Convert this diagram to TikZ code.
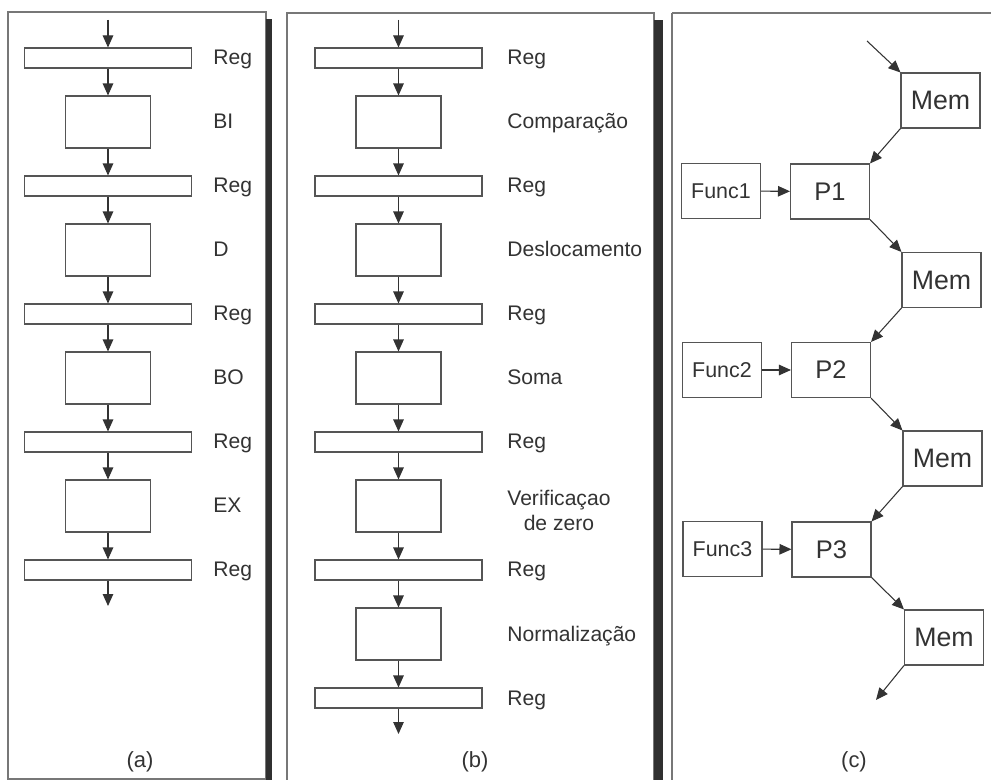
\documentclass[tikz,border=0pt]{standalone}
\usepackage{fontspec}
\setmainfont{Liberation Sans}
\usetikzlibrary{arrows.meta}
\definecolor{ink}{HTML}{333333}
\definecolor{edge}{HTML}{555555}
\definecolor{shade}{HTML}{303030}
\begin{document}
\begin{tikzpicture}[x=0.02cm,y=-0.02cm,
  every node/.style={text=ink},
  frame/.style={draw=edge!80, line width=0.6pt},
  shadowbar/.style={fill=shade, draw=none},
  regbox/.style={draw=edge, line width=0.6pt, minimum width=3.34cm, minimum height=0.4cm, inner sep=0pt},
  stagebox/.style={draw=edge, line width=0.6pt, minimum width=1.7cm, minimum height=1.04cm, inner sep=0pt},
  cbox/.style={draw=edge, line width=0.6pt, minimum width=1.58cm, minimum height=1.1cm, inner sep=0pt},
  lbl/.style={anchor=base west, inner sep=0pt, font=\fontsize{12}{14}\selectfont},
  flow/.style={draw=ink, line width=0.6pt, -{Triangle[length=0.24cm,width=0.21cm]}},
  panelcap/.style={font=\fontsize{12.5}{14}\selectfont},
  memfont/.style={font=\fontsize{15.2}{17}\selectfont},
  procfont/.style={font=\fontsize{14.5}{17}\selectfont},
  funcfont/.style={font=\fontsize{12.2}{14}\selectfont}
]
\useasboundingbox (0,0) rectangle (991,780);

% panel frames and their dark side bars
\fill[white] (0,0) rectangle (991,780);
\draw[frame] (8,12) rectangle (266,779);
\fill[shadowbar] (266,19) rectangle (272,781);
\draw[frame] (287,13) rectangle (654,781);
\fill[shadowbar] (654,20) rectangle (663,781);
\draw[frame] (672,13) -- (995,13);
\draw[frame] (672,13) -- (672,781);

% ---------- (a) four-stage pipeline ----------
\coordinate (ain) at (108,20);
\node[regbox] (ar0) at (108,58) {};
\node[stagebox] (as1) at (108,122) {};
\node[regbox] (ar1) at (108,186) {};
\node[stagebox] (as2) at (108,250) {};
\node[regbox] (ar2) at (108,314) {};
\node[stagebox] (as3) at (108,378) {};
\node[regbox] (ar3) at (108,442) {};
\node[stagebox] (as4) at (108,506) {};
\node[regbox] (ar4) at (108,570) {};
\coordinate (aout) at (108,606);

\draw[flow] (ain) -- (ar0);
\draw[flow] (ar0) -- (as1);
\draw[flow] (as1) -- (ar1);
\draw[flow] (ar1) -- (as2);
\draw[flow] (as2) -- (ar2);
\draw[flow] (ar2) -- (as3);
\draw[flow] (as3) -- (ar3);
\draw[flow] (ar3) -- (as4);
\draw[flow] (as4) -- (ar4);
\draw[flow] (ar4) -- (aout);

\node[lbl] (la0) at (213,65) {Reg};
\node[lbl] (la1) at (213,129) {BI};
\node[lbl] (la2) at (213,193) {Reg};
\node[lbl] (la3) at (213,257) {D};
\node[lbl] (la4) at (213,321) {Reg};
\node[lbl] (la5) at (213,385) {BO};
\node[lbl] (la6) at (213,449) {Reg};
\node[lbl] (la7) at (213,513) {EX};
\node[lbl] (la8) at (213,577) {Reg};
\node[panelcap] (capa) at (140,762) {(a)};

% ---------- (b) floating-point adder pipeline ----------
\coordinate (bin) at (398.5,20);
\node[regbox] (br0) at (398.5,58) {};
\node[stagebox] (bs1) at (398.5,122) {};
\node[regbox] (br1) at (398.5,186) {};
\node[stagebox] (bs2) at (398.5,250) {};
\node[regbox] (br2) at (398.5,314) {};
\node[stagebox] (bs3) at (398.5,378) {};
\node[regbox] (br3) at (398.5,442) {};
\node[stagebox] (bs4) at (398.5,506) {};
\node[regbox] (br4) at (398.5,570) {};
\node[stagebox] (bs5) at (398.5,634) {};
\node[regbox] (br5) at (398.5,698) {};
\coordinate (bout) at (398.5,734);

\draw[flow] (bin) -- (br0);
\draw[flow] (br0) -- (bs1);
\draw[flow] (bs1) -- (br1);
\draw[flow] (br1) -- (bs2);
\draw[flow] (bs2) -- (br2);
\draw[flow] (br2) -- (bs3);
\draw[flow] (bs3) -- (br3);
\draw[flow] (br3) -- (bs4);
\draw[flow] (bs4) -- (br4);
\draw[flow] (br4) -- (bs5);
\draw[flow] (bs5) -- (br5);
\draw[flow] (br5) -- (bout);

\node[lbl] (lb0) at (507,65) {Reg};
\node[lbl] (lb1) at (507,129) {Comparação};
\node[lbl] (lb2) at (507,193) {Reg};
\node[lbl] (lb3) at (507,257) {Deslocamento};
\node[lbl] (lb4) at (507,321) {Reg};
\node[lbl] (lb5) at (507,385) {Soma};
\node[lbl] (lb6) at (507,449) {Reg};
\node[anchor=west, inner sep=0pt, align=center, font=\fontsize{12}{14.2}\selectfont] (lb7) at (507,510) {Verificaçao\\de zero};
\node[lbl] (lb8) at (507,577) {Reg};
\node[lbl] (lb9) at (507,641) {Normalização};
\node[lbl] (lb10) at (507,705) {Reg};
\node[panelcap] (capb) at (475,762) {(b)};

% ---------- (c) processors sharing memories ----------
\coordinate (cin) at (867,41);
\node[cbox, memfont] (m1) at (940.5,100.5) {Mem};
\node[cbox, procfont] (p1) at (830,191.5) {P1};
\node[cbox, funcfont] (f1) at (721,191) {Func1};
\node[cbox, memfont] (m2) at (941.5,280) {Mem};
\node[cbox, procfont] (p2) at (831,370) {P2};
\node[cbox, funcfont] (f2) at (722,370) {Func2};
\node[cbox, memfont] (m3) at (942.5,458.5) {Mem};
\node[cbox, procfont] (p3) at (831.5,549.5) {P3};
\node[cbox, funcfont] (f3) at (722.5,549) {Func3};
\node[cbox, memfont] (m4) at (944,637.5) {Mem};
\coordinate (cout) at (876,700);

\draw[flow] (cin) -- (m1.north west);
\draw[flow] (m1.south west) -- (p1.north east);
\draw[flow] (f1) -- (p1);
\draw[flow] (p1.south east) -- (m2.north west);
\draw[flow] (m2.south west) -- (p2.north east);
\draw[flow] (f2) -- (p2);
\draw[flow] (p2.south east) -- (m3.north west);
\draw[flow] (m3.south west) -- (p3.north east);
\draw[flow] (f3) -- (p3);
\draw[flow] (p3.south east) -- (m4.north west);
\draw[flow] (m4.south west) -- (cout);
\node[panelcap] (capc) at (854,762) {(c)};
\end{tikzpicture}
\end{document}
